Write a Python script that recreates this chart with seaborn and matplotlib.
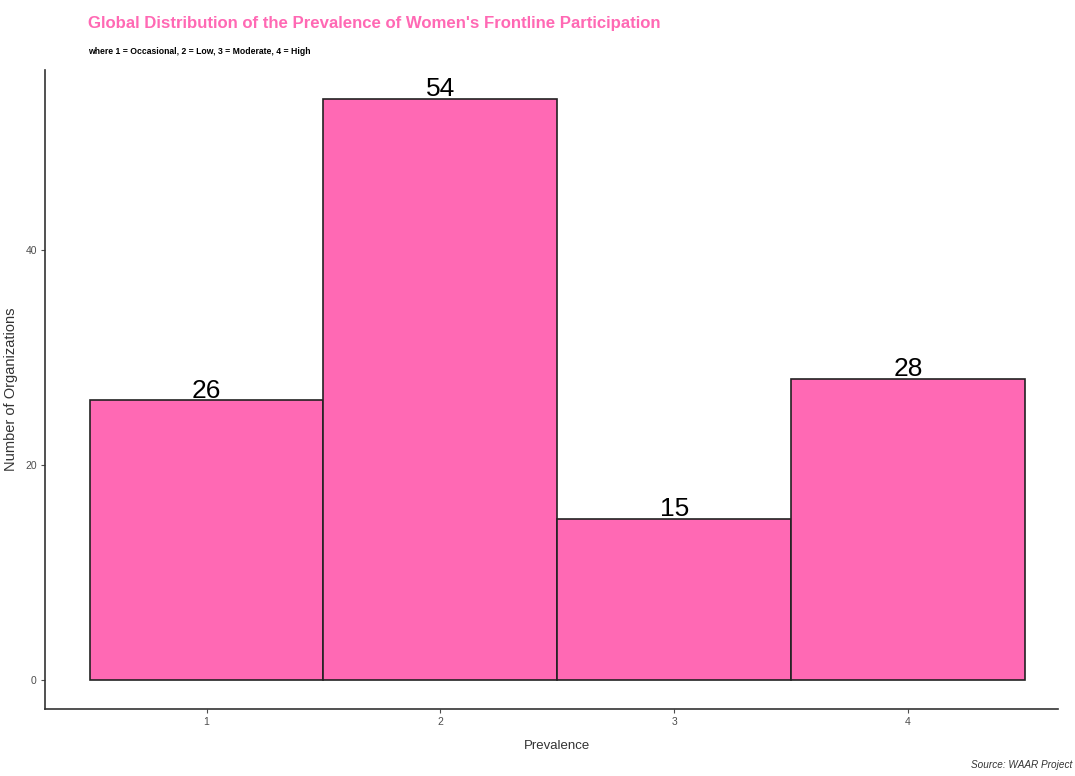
import matplotlib
matplotlib.use("Agg")
import matplotlib.pyplot as plt
import seaborn as sns
import pandas as pd

# Counts of organizations by prevalence level
prevalence = [1, 2, 3, 4]
counts = [26, 54, 15, 28]
y_ticks = [0, 20, 40]

df = pd.DataFrame({"Prevalence": prevalence, "Count": counts})

sns.set_theme(style="white")
plt.rcParams["font.family"] = ["Liberation Sans Narrow", "Liberation Sans", "DejaVu Sans"]

fig = plt.figure(figsize=(10.75, 7.76), dpi=100)
ax = fig.add_axes([0.042, 0.0863, 0.942, 0.8235])

sns.barplot(data=df, x="Prevalence", y="Count", native_scale=True, width=1.0,
            color="#FF69B4", saturation=1, edgecolor="#222222", linewidth=1.2, ax=ax)

for x, c in zip(prevalence, counts):
    ax.text(x, c + 0.25, str(c), ha="center", va="baseline", fontsize=19, color="black")

ax.set_xlim(0.31, 4.64)
ax.set_ylim(-2.7, 56.7)
ax.set_xticks(prevalence)
ax.set_yticks(y_ticks)
ax.tick_params(axis="both", labelsize=7.5, colors="#4d4d4d", length=3, width=0.8,
               direction="out", bottom=True, left=True, pad=3)
for lab in ax.get_xticklabels() + ax.get_yticklabels():
    lab.set_color("#4d4d4d")
for side in ["top", "right"]:
    ax.spines[side].set_visible(False)
for side in ["left", "bottom"]:
    ax.spines[side].set_color("#333333")
    ax.spines[side].set_linewidth(1.2)

ax.set_xlabel("Prevalence", fontsize=9.5, color="#333333")
ax.xaxis.set_label_coords(0.505, -0.048)
ax.set_ylabel("Number of Organizations", fontsize=10.5, color="#333333")
ax.yaxis.set_label_coords(-0.027, 0.5)

fig.text(0.082, 0.970, "Global Distribution of the Prevalence of Women's Frontline Participation",
         fontsize=12.1, fontweight="bold", color="#FF69B4", ha="left", va="center")
fig.text(0.082, 0.933, "where 1 = Occasional, 2 = Low, 3 = Moderate, 4 = High",
         fontsize=6.2, fontweight="bold", color="black", ha="left", va="center")
fig.text(0.997, 0.008, "Source: WAAR Project", fontsize=7.2, style="italic",
         color="#333333", ha="right", va="bottom")

fig.savefig("out.png", dpi=100, facecolor="white")
